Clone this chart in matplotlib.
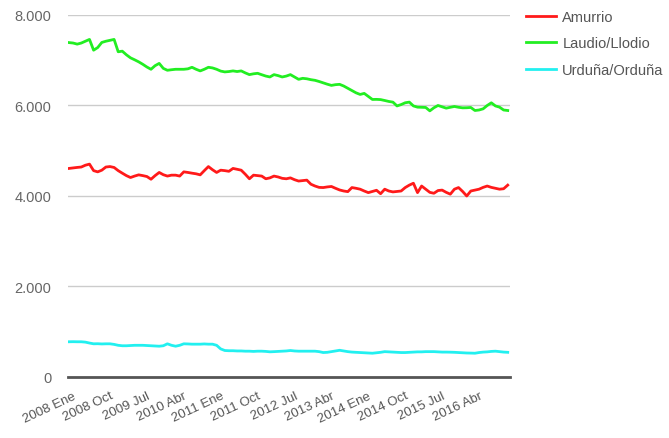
import matplotlib.pyplot as plt
import numpy as np
from matplotlib.ticker import FuncFormatter
import matplotlib.transforms as mtransforms


# Monthly series, 2008 Ene .. 2016 Dic (108 months)
amurrio = [
    4609, 4620, 4631, 4640, 4680, 4704, 4560, 4533, 4570, 4640,
    4650, 4630, 4560, 4504, 4450, 4408, 4440, 4467, 4450, 4430,
    4370, 4450, 4520, 4470, 4440, 4460, 4460, 4440, 4533, 4520,
    4504, 4490, 4467, 4560, 4650, 4580, 4520, 4570, 4560, 4545,
    4609, 4590, 4570, 4480, 4380, 4460, 4450, 4440, 4380, 4400,
    4440, 4420, 4390, 4380, 4400, 4360, 4330, 4340, 4350, 4260,
    4220, 4190, 4186, 4200, 4210, 4170, 4133, 4110, 4096, 4186,
    4170, 4150, 4110, 4074, 4100, 4126, 4050, 4150, 4110, 4090,
    4100, 4110, 4186, 4240, 4282, 4074, 4220, 4150, 4080, 4060,
    4120, 4130, 4080, 4040, 4150, 4186, 4100, 4000, 4110, 4130,
    4150, 4190, 4220, 4190, 4170, 4150, 4160, 4240,
]
laudio = [
    7390, 7380, 7356, 7380, 7420, 7460, 7222, 7280, 7393, 7420,
    7440, 7460, 7187, 7200, 7120, 7053, 7010, 6964, 6910, 6850,
    6800, 6880, 6930, 6820, 6778, 6790, 6800, 6800, 6800, 6810,
    6844, 6800, 6764, 6800, 6844, 6830, 6800, 6760, 6742, 6750,
    6764, 6750, 6764, 6720, 6682, 6700, 6711, 6680, 6650, 6630,
    6682, 6660, 6630, 6650, 6682, 6630, 6578, 6600, 6590, 6570,
    6556, 6530, 6500, 6470, 6444, 6460, 6467, 6430, 6380, 6330,
    6280, 6244, 6267, 6200, 6133, 6135, 6130, 6110, 6089, 6074,
    5990, 6020, 6060, 6074, 5990, 5963, 5960, 5956, 5881, 5950,
    6000, 5970, 5941, 5960, 5978, 5960, 5948, 5950, 5956, 5889,
    5900, 5926, 6000, 6059, 5990, 5963, 5900, 5889,
]
urduna = [
    778, 780, 778, 778, 770, 750, 733, 735, 730, 733,
    733, 720, 700, 690, 690, 695, 700, 700, 700, 695,
    690, 685, 680, 690, 733, 700, 680, 700, 733, 730,
    725, 725, 725, 730, 725, 725, 700, 620, 585, 580,
    580, 575, 575, 570, 570, 565, 570, 570, 565, 556,
    560, 565, 570, 575, 585, 575, 570, 570, 570, 570,
    570, 560, 540, 545, 560, 575, 590, 575, 560, 550,
    545, 540, 535, 530, 525, 535, 545, 560, 555, 550,
    545, 540, 540, 545, 550, 555, 555, 560, 560, 560,
    555, 550, 550, 548, 545, 540, 535, 530, 528, 525,
    540, 550, 555, 565, 570, 560, 550, 545,
]

series_names = ["Amurrio", "Laudio/Llodio", "Urduña/Orduña"]
series_colors = ["#ff1a1a", "#22ee22", "#22f0f0"]

tick_positions = list(range(0, 100, 9))
tick_labels = [
    "2008 Ene", "2008 Oct", "2009 Jul", "2010 Abr", "2011 Ene", "2011 Oct",
    "2012 Jul", "2013 Abr", "2014 Ene", "2014 Oct", "2015 Jul", "2016 Abr",
]
y_ticks = [0, 2000, 4000, 6000, 8000]


def thousands(value, _pos):
    return f"{int(value):,}".replace(",", ".")


def main():
    plt.rcParams["font.family"] = ["Liberation Sans", "DejaVu Sans"]

    fig = plt.figure(figsize=(6.69, 4.39), dpi=100)
    ax = fig.add_axes([0.1016, 0.139, 0.6604, 0.8246])

    months = np.arange(len(amurrio))
    for values, name, color in zip([amurrio, laudio, urduna], series_names, series_colors):
        ax.plot(months, values, color=color, linewidth=2.0, label=name)

    ax.set_xlim(-0.25, 107.5)
    ax.set_ylim(0, 8000)
    ax.set_yticks(y_ticks)
    ax.yaxis.set_major_formatter(FuncFormatter(thousands))
    ax.grid(axis="y", color="#cccccc", linewidth=1.0)
    ax.set_axisbelow(True)

    for side in ["top", "right", "left"]:
        ax.spines[side].set_visible(False)
    ax.spines["bottom"].set_color("#555555")
    ax.spines["bottom"].set_linewidth(2.0)

    ax.set_xticks(tick_positions)
    ax.set_xticklabels(tick_labels, rotation=25, ha="right", rotation_mode="anchor")
    ax.tick_params(axis="x", length=0, pad=9, labelsize=9.5, labelcolor="#555555")
    ax.tick_params(axis="y", length=0, pad=12, labelsize=10.5, labelcolor="#666666")

    offset = mtransforms.ScaledTranslation(4 / 100, 0, fig.dpi_scale_trans)
    for label in ax.get_xticklabels():
        label.set_transform(label.get_transform() + offset)

    fig.legend(
        loc="upper left",
        bbox_to_anchor=(0.786, 0.975),
        frameon=False,
        fontsize=10.5,
        handlelength=2.1,
        handletextpad=0.4,
        labelspacing=0.85,
        borderpad=0,
        borderaxespad=0,
        labelcolor="#555555",
    )

    fig.savefig("out.png", dpi=100)
    plt.close(fig)


if __name__ == "__main__":
    main()
